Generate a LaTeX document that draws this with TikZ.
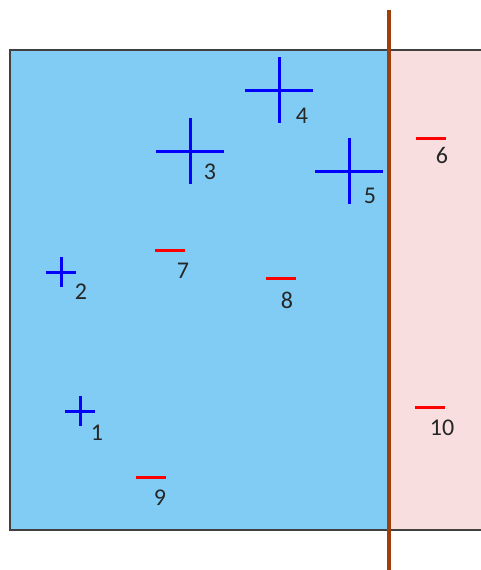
\documentclass[tikz,border=0pt]{standalone}
\usepackage{fontspec}
\setmainfont{Carlito}
\usetikzlibrary{positioning}
\definecolor{regionblue}{RGB}{128,204,245}
\definecolor{regionpink}{RGB}{248,222,222}
\definecolor{wallbrown}{RGB}{158,62,12}

\begin{document}
\begin{tikzpicture}[
  x=1pt, y=-1pt,
  font=\fontsize{24}{28}\selectfont,
  poschg/.style={draw=blue, line width=3pt},
  negchg/.style={draw=red, line width=3pt},
  lbl/.style={inner sep=0pt, text=black!85}
]
\useasboundingbox (0,0) rectangle (481,570);
\fill[regionblue] (10,50) rectangle (389,530);
\fill[regionpink] (389,50) rectangle (481,530);
\draw[black!75, line width=1.5pt] (481,50) -- (10,50) -- (10,530) -- (481,530);
\draw[wallbrown, line width=3.5pt] (389,10) -- (389,570);

% large positive charges
\foreach \n/\x/\y/\lx/\ly in {3/190/151/210/172, 4/279/90/302/116, 5/349/171/370/196} {
  \coordinate (c\n) at (\x,\y);
  \draw[poschg] (\x-34,\y) -- (\x+34,\y) (\x,\y-33) -- (\x,\y+33);
  \node[lbl] (l\n) at (\lx,\ly) {\n};
}
% small positive charges
\foreach \n/\x/\y/\lx/\ly in {1/80/411/97/433, 2/61/272/81/292} {
  \coordinate (c\n) at (\x,\y);
  \draw[poschg] (\x-15,\y) -- (\x+15,\y) (\x,\y-15) -- (\x,\y+15);
  \node[lbl] (l\n) at (\lx,\ly) {\n};
}
% negative charges
\foreach \n/\x/\y/\lx/\ly in {6/431/138/442/155, 7/170/250/183/271, 8/281/278/287/300, 9/151/477/160/498, 10/430/407/442/428} {
  \coordinate (c\n) at (\x,\y);
  \draw[negchg] (\x-15,\y) -- (\x+15,\y);
  \node[lbl] (l\n) at (\lx,\ly) {\n};
}
\end{tikzpicture}
\end{document}
